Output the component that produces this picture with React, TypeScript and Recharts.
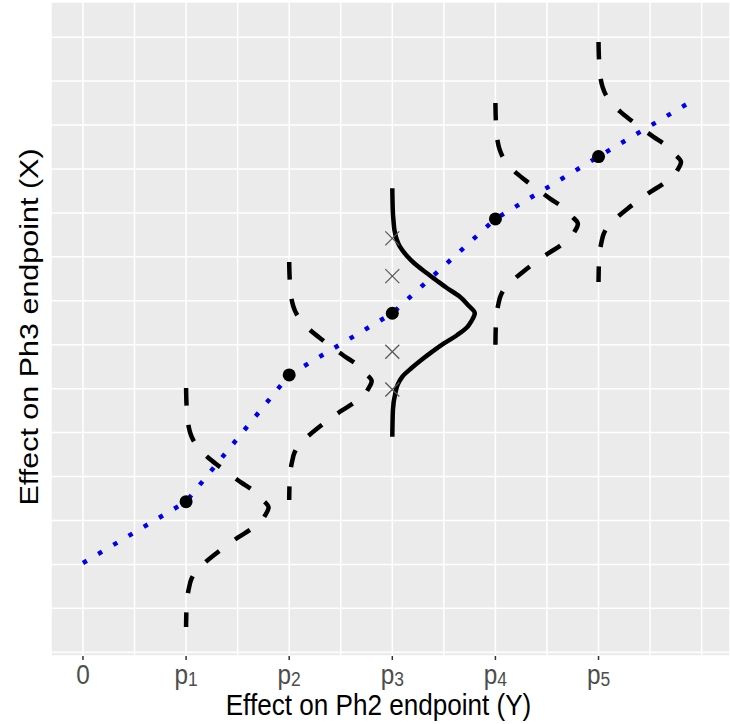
import React from 'react';
import { ComposedChart, XAxis, YAxis, CartesianGrid, Line, Scatter, Label } from 'recharts';

// x positions: 0, p1..p5 as 0..5
const tickValues = [0, 1, 2, 3, 4, 5];
const tickBase = ['0', 'p', 'p', 'p', 'p', 'p'];
const tickSub = ['', '1', '2', '3', '4', '5'];
const gridX = [0, 0.5, 1, 1.5, 2, 2.5, 3, 3.5, 4, 4.5, 5, 5.5, 6];
const gridY = [0, 0.5, 1, 1.5, 2, 2.5, 3, 3.5, 4, 4.5, 5, 5.5, 6, 6.5, 7];

// estimated points (Ph2 effect vs Ph3 effect)
const pointX = [1, 2, 3, 4, 5];
const pointY = [1.714, 3.156, 3.858, 4.932, 5.641];

// blue dotted line
const lineX = [0, 1, 2, 3, 4, 5, 5.93];
const lineY = [1.016, 1.714, 3.156, 3.858, 4.932, 5.641, 6.29];

// density curves hanging at each p
const curveX = [1, 2, 3, 4, 5];
const curveCenterY = [1.648, 3.087, 3.858, 4.875, 5.58];
const curveTopY = [3.007, 4.441, 5.28, 6.251, 6.945];
const curveBottomY = [0.288, 1.733, 2.453, 3.497, 4.214];
const curveSolid = [false, false, true, false, false];

// density profile: vertical offset and width
const profileDy = [1.138, 1.047, 0.945, 0.854, 0.763, 0.66, 0.569, 0.478, 0.376, 0.285, 0.193, 0.091, 0,
  -0.091, -0.153, -0.247, -0.341, -0.437, -0.532, -0.626, -0.722, -0.816, -0.911, -1.101];
const profileDx = [0.006, 0.012, 0.021, 0.039, 0.071, 0.136, 0.213, 0.31, 0.427, 0.533, 0.65, 0.737, 0.8,
  0.766, 0.73, 0.63, 0.504, 0.388, 0.281, 0.184, 0.097, 0.051, 0.029, 0.006];

// x markers near p3
const markerX = [3, 3, 3, 3];
const markerY = [4.71, 4.28, 3.42, 2.99];

const FONT = '"Liberation Sans", Arial, Helvetica, sans-serif';
const SQUEEZE = 0.87;

const lineData = lineX.map((x, i) => ({ x, y: lineY[i] }));
const pointData = pointX.map((x, i) => ({ x, y: pointY[i] }));
const markerData = markerX.map((x, i) => ({ x, y: markerY[i] }));
const curves = curveX.map((cx, c) => [
  { x: cx, y: curveTopY[c] },
  ...profileDy.map((dy, i) => ({ x: cx + profileDx[i], y: curveCenterY[c] + dy })),
  { x: cx, y: curveBottomY[c] },
]);

const XTick = (props: any) => {
  const { x, y, payload } = props;
  const i = tickValues.indexOf(payload.value);
  if (i < 0) return <g />;
  return (
    <g>
      <line x1={x} x2={x} y1={y - 4} y2={y} stroke="#333333" strokeWidth={1.5} />
      <text
        transform={`translate(${x},${y + 24}) scale(${SQUEEZE},1)`}
        x={0}
        y={0}
        textAnchor="middle"
        fontSize={28}
        fill="#4D4D4D"
        fontFamily={FONT}
      >
        {tickBase[i]}
        {tickSub[i] ? (
          <tspan fontSize={20} dy={2}>{tickSub[i]}</tspan>
        ) : null}
      </text>
    </g>
  );
};

const EmptyTick = () => <g />;

const Titles = (props: any) => {
  const vb = props.viewBox || { x: 51, width: 679 };
  const cx = vb.x + vb.width / 2 - 12;
  return (
    <g>
      <text
        transform={`translate(${cx},715) scale(${SQUEEZE},1)`}
        x={0}
        y={0}
        textAnchor="middle"
        fontSize={30}
        fill="#000"
        fontFamily={FONT}
      >
        Effect on Ph2 endpoint (Y)
      </text>
      <text
        transform={`translate(38,327) rotate(-90) scale(1,${SQUEEZE})`}
        x={0}
        y={0}
        textAnchor="middle"
        fontSize={30.5}
        fill="#000"
        fontFamily={FONT}
      >
        Effect on Ph3 endpoint (X)
      </text>
    </g>
  );
};

const Dot = (props: any) => {
  const { cx, cy } = props;
  return <circle cx={cx} cy={cy} r={6.5} fill="#000" />;
};

const XMark = (props: any) => {
  const { cx, cy } = props;
  const s = 7;
  return (
    <path d={`M${cx - s},${cy - s}L${cx + s},${cy + s}M${cx - s},${cy + s}L${cx + s},${cy - s}`} stroke="#555" strokeWidth={1.2} fill="none" />
  );
};

export default function App() {
  return (
    <div style={{ position: 'absolute', left: 0, top: 0, background: '#fff' }}>
      <ComposedChart width={730} height={724} margin={{ top: 2, right: 0, bottom: 0, left: 51 }}>
        <CartesianGrid fill="#EBEBEB" stroke="#FFFFFF" strokeWidth={1.5} />
        <XAxis
          type="number"
          dataKey="x"
          domain={[-0.31, 6.275]}
          allowDataOverflow
          ticks={gridX}
          interval={0}
          tick={<XTick />}
          tickLine={false}
          axisLine={false}
          tickSize={4}
          tickMargin={0}
          height={68}
        >
          <Label content={<Titles />} />
        </XAxis>
        <YAxis
          type="number"
          dataKey="y"
          domain={[-0.042, 7.4]}
          allowDataOverflow
          ticks={gridY}
          interval={0}
          tick={<EmptyTick />}
          tickLine={false}
          axisLine={false}
          width={0}
        />
        {curves.map((data, c) => (
          <Line
            key={'c' + c}
            data={data}
            dataKey="y"
            type="monotoneY"
            stroke="#000"
            strokeWidth={4.5}
            strokeDasharray={curveSolid[c] ? undefined : '17.5 19.5'}
            dot={false}
            activeDot={false}
            isAnimationActive={false}
          />
        ))}
        <Scatter data={markerData} dataKey="y" shape={<XMark />} isAnimationActive={false} />
        <Scatter data={pointData} dataKey="y" shape={<Dot />} isAnimationActive={false} />
        <Line
          data={lineData}
          dataKey="y"
          type="linear"
          stroke="#0000E6"
          strokeWidth={4.5}
          strokeDasharray="4.5 13.2"
          dot={false}
          activeDot={false}
          isAnimationActive={false}
        />
      </ComposedChart>
    </div>
  );
}
